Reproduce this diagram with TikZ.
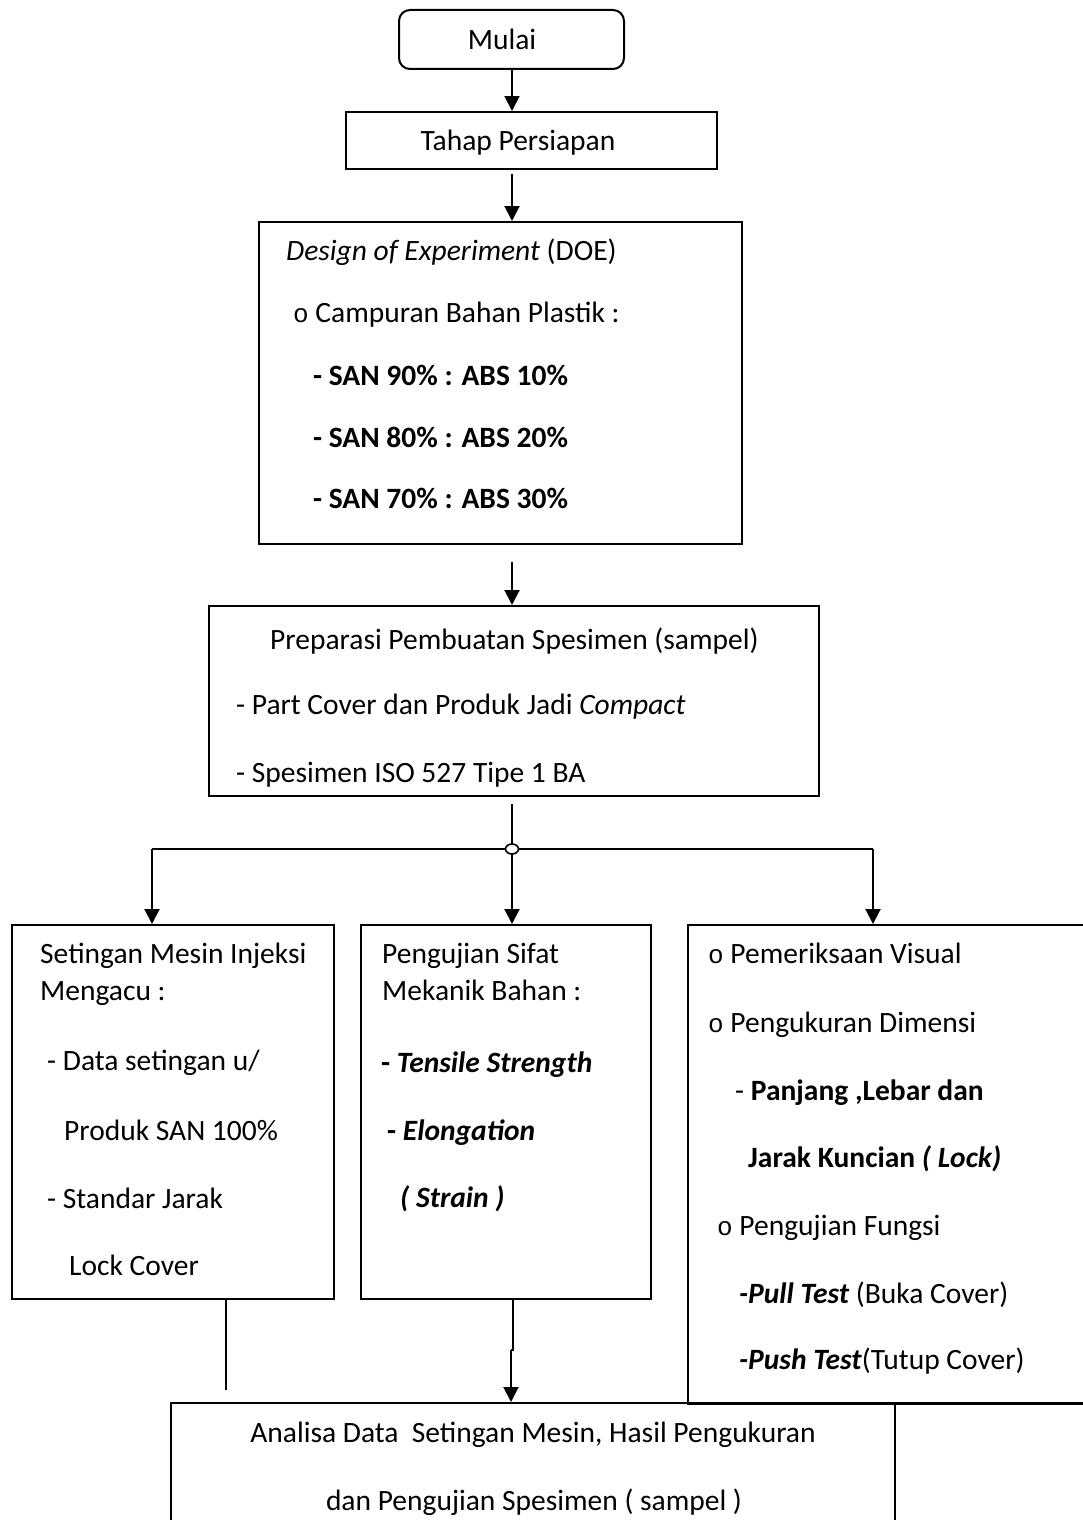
\documentclass[tikz,border=0pt]{standalone}
\usepackage{fontspec}
\setmainfont{Carlito}
\newfontfamily\monof{Liberation Mono}
\usetikzlibrary{arrows.meta,calc}
\begin{document}
\begin{tikzpicture}[x=1pt,y=-1pt,
  every node/.style={font=\fontsize{29.5}{34}\selectfont},
  box/.style={draw, line width=2pt, anchor=north west, inner sep=0pt},
  txt/.style={anchor=base west, inner sep=0pt},
  txc/.style={anchor=base, inner sep=0pt},
  arr/.style={line width=2pt, -{Triangle[width=15pt,length=15pt]}},
  ln/.style={line width=2pt}]
\useasboundingbox (0,0) rectangle (1083,1520);
\clip (0,0) rectangle (1083,1520);
\newcommand{\bul}{{\monof\fontsize{26}{30}\selectfont o}}
% boxes
\node[box, rounded corners=11pt, minimum width=225pt, minimum height=59pt] (mulai) at (398,9) {};
\node[box, minimum width=371pt, minimum height=57pt] (tahap) at (345,111) {};
\node[box, minimum width=483pt, minimum height=322pt] (doe) at (258,221) {};
\node[box, minimum width=610pt, minimum height=190pt] (prep) at (208,605) {};
\node[box, minimum width=322pt, minimum height=374pt] (setting) at (11,924) {};
\node[box, minimum width=290pt, minimum height=374pt] (uji) at (360,924) {};
\node[box, minimum width=420pt, minimum height=479pt] (cek) at (687,924) {};
\node[box, minimum width=930pt, minimum height=160pt] (analisa) at (170,1402) {};
% texts
\node[txc] (t1) at (502,50) {Mulai};
\node[txc] (t2) at (518,150) {Tahap Persiapan};
\node[txt] (d1) at (286,260) {\textit{Design of Experiment} (DOE)};
\node[txt] (d2) at (293,322) {\bul\ Campuran Bahan Plastik :};
\node[txt] (d3) at (313,385) {\textbf{- SAN 90\% : ABS 10\%}};
\node[txt] (d4) at (313,447) {\textbf{- SAN 80\% : ABS 20\%}};
\node[txt] (d5) at (313,508) {\textbf{- SAN 70\% : ABS 30\%}};
\node[txt] (p1) at (270,649) {Preparasi Pembuatan Spesimen (sampel)};
\node[txt] (p2) at (236,714) {- Part Cover dan Produk Jadi \textit{Compact}};
\node[txt] (p3) at (236,782) {- Spesimen ISO 527 Tipe 1 BA};
\node[txt] (s1) at (40,963) {Setingan Mesin Injeksi};
\node[txt] (s2) at (40,1000) {Mengacu :};
\node[txt] (s3) at (47,1070) {- Data setingan u/};
\node[txt] (s4) at (64,1140) {Produk SAN 100\%};
\node[txt] (s5) at (47,1208) {- Standar Jarak};
\node[txt] (s6) at (69,1275) {Lock Cover};
\node[txt] (u1) at (382,963) {Pengujian Sifat};
\node[txt] (u2) at (382,1000) {Mekanik Bahan :};
\node[txt] (u3) at (381,1072) {\textbf{- \textit{Tensile Strength}}};
\node[txt] (u4) at (387,1140) {\textbf{- \textit{Elongation}}};
\node[txt] (u5) at (400,1207) {\textbf{\textit{( Strain )}}};
\node[txt] (c1) at (708,963) {\bul\ Pemeriksaan Visual};
\node[txt] (c2) at (708,1032) {\bul\ Pengukuran Dimensi};
\node[txt] (c3) at (735,1100) {- \textbf{Panjang ,Lebar dan}};
\node[txt] (c4) at (748,1167) {\textbf{Jarak Kuncian \textit{( Lock)}}};
\node[txt] (c5) at (717,1235) {\bul\ Pengujian Fungsi};
\node[txt] (c6) at (739,1303) {\textbf{\textit{-Pull Test}} (Buka Cover)};
\node[txt] (c7) at (739,1369) {\textbf{\textit{-Push Test}}(Tutup Cover)};
\node[txc] (a1) at (533,1442) {Analisa Data\ \ Setingan Mesin, Hasil Pengukuran};
\node[txc] (a2) at (534,1510) {dan Pengujian Spesimen ( sampel )};
% coordinates
\coordinate (colx) at (512,0);
\coordinate (j) at (512,849);
\coordinate (jl) at (152,849);
\coordinate (jr) at (873,849);
\coordinate (lend) at (226,1390);
\coordinate (lx) at (226,0);
\coordinate (mx) at (513,0);
\coordinate (jog) at (513,1350);
\coordinate (jog2) at (511,1350);
\coordinate (vx) at (895,0);
\coordinate (vend) at (895,1530);
% connectors
\draw[arr] (colx |- mulai.south) -- (colx |- tahap.north);
\draw[arr] ([yshift=-4pt]colx |- tahap.south) -- (colx |- doe.north);
\draw[arr] ([yshift=-17pt]colx |- doe.south) -- (colx |- prep.north);
\draw[ln] ([yshift=-7pt]colx |- prep.south) -- (j);
\draw[ln] (jl) -- (jr);
\draw[arr] (jl) -- (jl |- setting.north);
\draw[arr] (j) -- (j |- uji.north);
\draw[arr] (jr) -- (jr |- cek.north);
\draw[line width=1.6pt, fill=white] (j) ellipse (6.5pt and 5pt);
\draw[ln] (lx |- setting.south) -- (lend);
\draw[ln] (mx |- uji.south) -- (jog) -- (jog2);
\draw[arr] (jog2) -- (jog2 |- analisa.north);
\draw[ln] (vx |- analisa.north) -- (vend);
\end{tikzpicture}
\end{document}
